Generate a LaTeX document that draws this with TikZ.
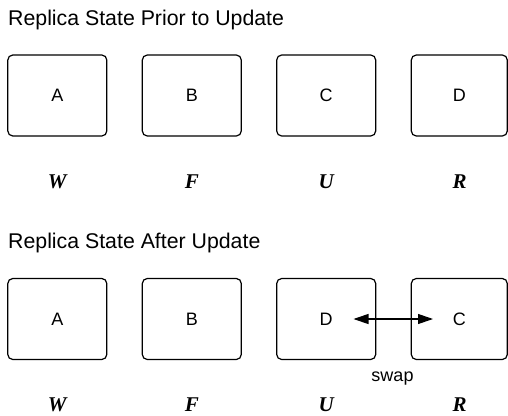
\documentclass[tikz,border=0pt]{standalone}
\usepackage{fontspec}
\setmainfont{Liberation Sans}
\newfontfamily\tmsfont{Liberation Serif}
\usetikzlibrary{arrows.meta}
\tikzset{
  replbox/.style={draw=black, line width=1.2pt, rounded corners=5pt, minimum width=99pt, minimum height=81pt, inner sep=0pt, font=\fontsize{18}{21}\selectfont},
  lastbox/.style={replbox, minimum width=96pt},
  roletext/.style={inner sep=0pt, font=\tmsfont\bfseries\itshape\fontsize{21}{24}\selectfont},
  titletext/.style={anchor=base west, inner sep=0pt, font=\fontsize{21.3}{25}\selectfont},
  swaparrow/.style={{Triangle[length=15pt,width=10pt]}-{Triangle[length=15pt,width=10pt]}, line width=1.1pt},
  swaptext/.style={inner sep=0pt, font=\fontsize{18}{21}\selectfont}
}
\begin{document}
\begin{tikzpicture}[x=1pt,y=-1pt]
\useasboundingbox (0,0) rectangle (508,415);
% top row
\node[titletext] (t1) at (8,25) {Replica State Prior to Update};
\node[replbox] (a1) at (57.3,95.5) {A};
\node[replbox] (b1) at (191.8,95.5) {B};
\node[replbox] (c1) at (326.2,95.5) {C};
\node[lastbox] (d1) at (459.3,95.5) {D};
\node[roletext] (w1) at (57.3,181.5) {W};
\node[roletext] (f1) at (192,181.5) {F};
\node[roletext] (u1) at (326.2,181.5) {U};
\node[roletext] (r1) at (459.5,181.5) {R};
% bottom row
\node[titletext] (t2) at (8,248) {Replica State After Update};
\node[replbox] (a2) at (57.3,319) {A};
\node[replbox] (b2) at (191.8,319) {B};
\node[replbox] (d2) at (326.2,319) {D};
\node[lastbox] (c2) at (459.3,319) {C};
\node[roletext] (w2) at (57.3,405) {W};
\node[roletext] (f2) at (192,405) {F};
\node[roletext] (u2) at (326.2,405) {U};
\node[roletext] (r2) at (459.5,405) {R};
\draw[swaparrow] ([xshift=27.3pt]d2.center) -- ([xshift=-26.3pt]c2.center);
\node[swaptext] (sw) at (392.5,379) {swap};
\end{tikzpicture}
\end{document}
